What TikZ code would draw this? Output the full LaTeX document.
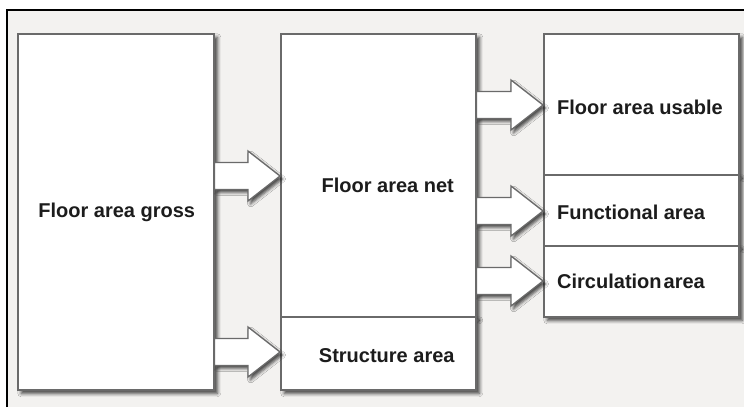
\documentclass[tikz,border=0pt]{standalone}
\usepackage{fontspec}
\setmainfont{Liberation Sans}
\usetikzlibrary{calc,shadows.blur}
\definecolor{bg}{HTML}{F3F2F0}
\definecolor{edge}{HTML}{6A6A6A}
\definecolor{ink}{HTML}{1C1C1C}
\tikzset{
  box/.style={draw=edge, line width=1.5pt, fill=white, anchor=north west, inner sep=0pt,
    blur shadow={shadow xshift=3.5pt, shadow yshift=-3.5pt, shadow blur radius=3.5pt, shadow opacity=75}},
  lbl/.style={font=\bfseries\fontsize{20}{23}\selectfont, text=ink, inner sep=0pt},
  barr/.style={draw=edge, line width=1.3pt, fill=white, line join=miter,
    blur shadow={shadow xshift=2.5pt, shadow yshift=-3pt, shadow blur radius=3pt, shadow opacity=70}},
}
\newcommand\blockarrow[3]{%
  \draw[barr] let \p1=(#1.east), \p2=(#2.west) in
    (\x1,#3pt+13.5pt) -- (\x2-32pt,#3pt+13.5pt) -- (\x2-32pt,#3pt+25pt) -- (\x2,#3pt)
    -- (\x2-32pt,#3pt-25pt) -- (\x2-32pt,#3pt-13.5pt) -- (\x1,#3pt-13.5pt) -- cycle;}
\begin{document}
\begin{tikzpicture}[x=1pt,y=-1pt]
\useasboundingbox (0,0) rectangle (744,407);
\fill[white] (0,0) rectangle (744,407);
\fill[bg] (7,10) rectangle (744,407);
\draw[line width=1.8pt] (7,407) -- (7,10) -- (744,10);

\node[box, minimum width=196pt, minimum height=356pt] (gross) at (17,33) {};
\node[box, minimum width=195pt, minimum height=283pt] (net) at (280,33) {};
\node[box, minimum width=195pt, minimum height=73pt] (struct) at (280,316) {};
\node[box, minimum width=195pt, minimum height=141pt] (usable) at (543,33) {};
\node[box, minimum width=195pt, minimum height=71pt] (functional) at (543,174) {};
\node[box, minimum width=195pt, minimum height=71pt] (circulation) at (543,245) {};

\blockarrow{gross}{net}{-176}
\blockarrow{gross}{struct}{-352}
\blockarrow{net}{usable}{-105}
\blockarrow{net}{functional}{-211}
\blockarrow{net}{circulation}{-281}

\node[lbl] (tgross) at ([shift={(1,1)}]gross.center) {Floor area gross};
\node[lbl] (tnet) at ([shift={(9.5,10.5)}]net.center) {Floor area net};
\node[lbl] (tstruct) at ([shift={(8.5,2.5)}]struct.center) {Structure area};
\node[lbl, anchor=west] (tusable) at ([shift={(14,3.5)}]usable.west) {Floor area usable};
\node[lbl, anchor=west] (tfunctional) at ([shift={(14,2.5)}]functional.west) {Functional area};
\node[lbl, anchor=west] (tcirculation) at ([shift={(14,0.5)}]circulation.west) {Circulation\hspace{2pt}area};
\end{tikzpicture}
\end{document}
